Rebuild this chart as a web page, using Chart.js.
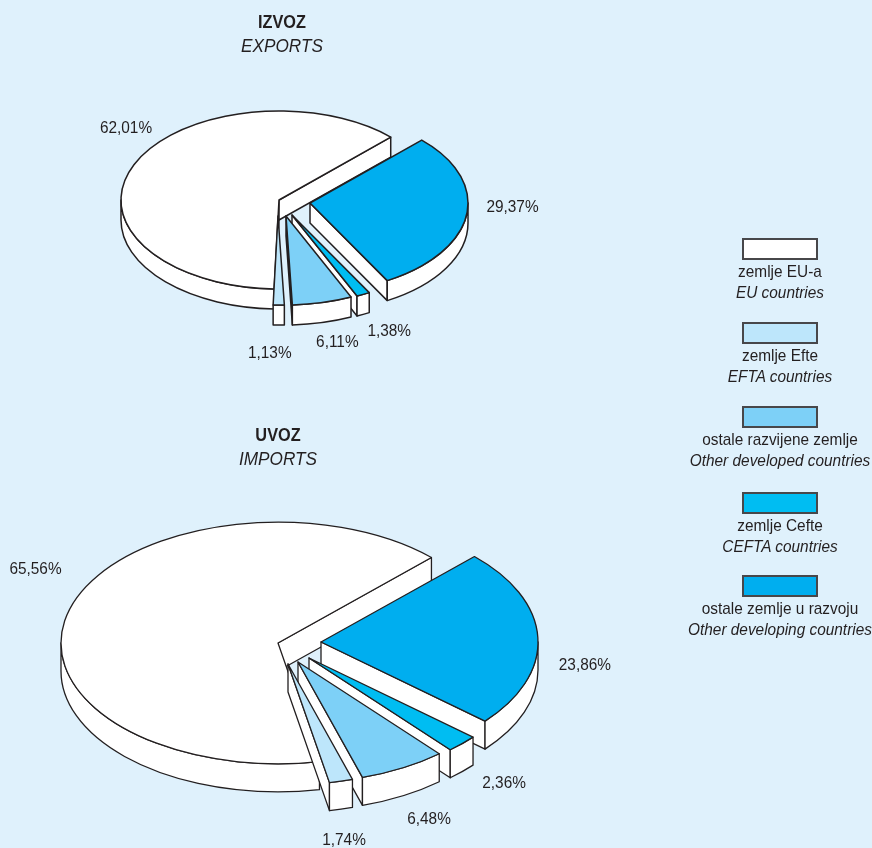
<!DOCTYPE html>
<html>
<head>
<meta charset="utf-8">
<script src="https://cdn.jsdelivr.net/npm/chart.js@4"></script>
<style>
    html, body { margin: 0; padding: 0; }
    body { position: relative; width: 872px; height: 848px; overflow: hidden; background: #dff1fc; font-family: "Liberation Sans", Arial, sans-serif; color: #231f20; }
    canvas { position: absolute; left: 0; }
    #exportChart { top: 0; }
    #importChart { top: 380px; }
    #legend { position: absolute; left: 660px; top: 238px; width: 240px; text-align: center; font-size: 17px; line-height: 21px; }
    .item { height: 84px; }
    .item:nth-child(3) { height: 86px; }
    .item:nth-child(4) { height: 83px; }
    .swatch { box-sizing: border-box; width: 76px; height: 22px; margin: 0 0 1px 82px; border: 2px solid #47474a; }
    .en, .hr { white-space: nowrap; transform: scaleX(0.905); }
    .en { font-style: italic; }
</style>
</head>
<body>
<canvas id="exportChart"></canvas>
<canvas id="importChart"></canvas>
<div id="legend"></div>
<script>
// slices run clockwise starting at the blue one, legend shows them in reverse
const categories = ['ostale zemlje u razvoju', 'zemlje Cefte', 'ostale razvijene zemlje', 'zemlje Efte', 'zemlje EU-a'];
const categoriesEn = ['Other developing countries', 'CEFTA countries', 'Other developed countries', 'EFTA countries', 'EU countries'];
const exportValues = [29.37, 1.38, 6.11, 1.13, 62.01];
const importValues = [23.86, 2.36, 6.48, 1.74, 65.56];
const sliceColors = ['#00aeef', '#00bdf2', '#7dd0f7', '#bde6fb', '#ffffff'];

const inkColor = '#231f20';
const drawOrder = [4, 0, 1, 2, 3];

function drawPie(ctx, arc, shift, tilt, depth, color) {
    const cx = arc.x + shift[0];
    const cy = arc.y + shift[1];
    const rx = arc.outerRadius;
    const ry = rx * tilt;
    const start = arc.startAngle;
    const end = arc.endAngle;

    const paint = (fill) => {
        ctx.fillStyle = fill;
        ctx.fill();
        ctx.stroke();
    };

    // cut faces, only the ones turned towards the viewer
    const cutFace = (angle) => {
        const px = cx + rx * Math.cos(angle);
        const py = cy + ry * Math.sin(angle);
        ctx.beginPath();
        ctx.moveTo(cx, cy);
        ctx.lineTo(px, py);
        ctx.lineTo(px, py + depth);
        ctx.lineTo(cx, cy + depth);
        ctx.closePath();
        paint('#ffffff');
    };
    if (Math.cos(start) < 0) cutFace(start);
    if (Math.cos(end) > 0) cutFace(end);

    // outer wall, front half of the ellipse
    const a0 = Math.max(start, 0);
    const a1 = Math.min(end, Math.PI);
    if (a1 > a0) {
        ctx.beginPath();
        ctx.ellipse(cx, cy, rx, ry, 0, a0, a1);
        ctx.ellipse(cx, cy + depth, rx, ry, 0, a1, a0, true);
        ctx.closePath();
        paint('#ffffff');
    }

    // top face
    ctx.beginPath();
    ctx.moveTo(cx, cy);
    ctx.ellipse(cx, cy, rx, ry, 0, start, end);
    ctx.closePath();
    paint(color);
}

// the original type is a bit condensed, so squeeze it sideways
function narrowText(ctx, text, x, y) {
    ctx.save();
    ctx.translate(x, y);
    ctx.scale(0.905, 1);
    ctx.fillText(text, 0, 0);
    ctx.restore();
}

const tiltedPie = {
    id: 'tiltedPie',
    beforeDatasetsDraw(chart, args, opts) {
        const ctx = chart.ctx;
        const arcs = chart.getDatasetMeta(0).data;
        ctx.save();
        ctx.lineWidth = opts.lineWidth;
        ctx.lineJoin = 'round';
        ctx.strokeStyle = inkColor;
        drawOrder.forEach((i) => {
            drawPie(ctx, arcs[i], opts.shifts[i], opts.tilt, opts.depth, sliceColors[i]);
        });

        // percent labels, placed from the rim point of each slice
        ctx.fillStyle = inkColor;
        ctx.textAlign = 'center';
        ctx.textBaseline = 'middle';
        ctx.font = '17px "Liberation Sans"';
        arcs.forEach((arc, i) => {
            const mid = (arc.startAngle + arc.endAngle) / 2;
            const x = arc.x + opts.shifts[i][0] + arc.outerRadius * Math.cos(mid) + opts.nudges[i][0];
            const y = arc.y + opts.shifts[i][1] + arc.outerRadius * opts.tilt * Math.sin(mid) + opts.nudges[i][1];
            const text = chart.data.datasets[0].data[i].toFixed(2).replace('.', ',') + '%';
            narrowText(ctx, text, x, y);
        });

        // heading
        ctx.font = 'bold 18px "Liberation Sans"';
        narrowText(ctx, opts.title[0], opts.titleX, opts.titleY);
        ctx.font = 'italic 19px "Liberation Sans"';
        narrowText(ctx, opts.title[1], opts.titleX, opts.titleY + 24);
        ctx.restore();
        return false;
    },
};

function makePie(id, values, size, padding, pie) {
    const canvas = document.getElementById(id);
    canvas.width = size[0];
    canvas.height = size[1];
    return new Chart(canvas, {
        type: 'pie',
        data: {
            labels: categories,
            datasets: [{ data: values, backgroundColor: sliceColors, borderWidth: 0 }],
        },
        options: {
            responsive: false,
            animation: false,
            events: [],
            rotation: 45,
            layout: { padding: padding },
            plugins: {
                legend: { display: false },
                tooltip: { enabled: false },
                tiltedPie: pie,
            },
        },
        plugins: [tiltedPie],
    });
}

makePie('exportChart', exportValues, [872, 400], { left: 121, right: 435, top: 42, bottom: 42 }, {
    tilt: 0.563,
    depth: 20,
    lineWidth: 1.5,
    shifts: [[31, 3], [13, 15], [7, 16], [-1, 16], [0, 0]],
    nudges: [[46, -8], [26, 36.5], [15, 40], [-9, 48], [-8, -36]],
    title: ['IZVOZ', 'EXPORTS'],
    titleX: 282,
    titleY: 23,
});

makePie('importChart', importValues, [872, 500], { left: 61, right: 377, top: 46, bottom: 20 }, {
    tilt: 0.557,
    depth: 28,
    lineWidth: 1.3,
    shifts: [[43, -1], [31, 15], [20, 19], [10, 21], [0, 0]],
    nudges: [[47, 28], [42, 40], [26, 52], [3, 59], [-35, -38]],
    title: ['UVOZ', 'IMPORTS'],
    titleX: 278,
    titleY: 56,
});

// legend
const legend = document.getElementById('legend');
categories.map((_, i) => i).reverse().forEach((i) => {
    const item = document.createElement('div');
    item.className = 'item';
    item.innerHTML = '<div class="swatch" style="background:' + sliceColors[i] + '"></div>' +
        '<div class="hr">' + categories[i] + '</div>' +
        '<div class="en">' + categoriesEn[i] + '</div>';
    legend.appendChild(item);
});
</script>
</body>
</html>
